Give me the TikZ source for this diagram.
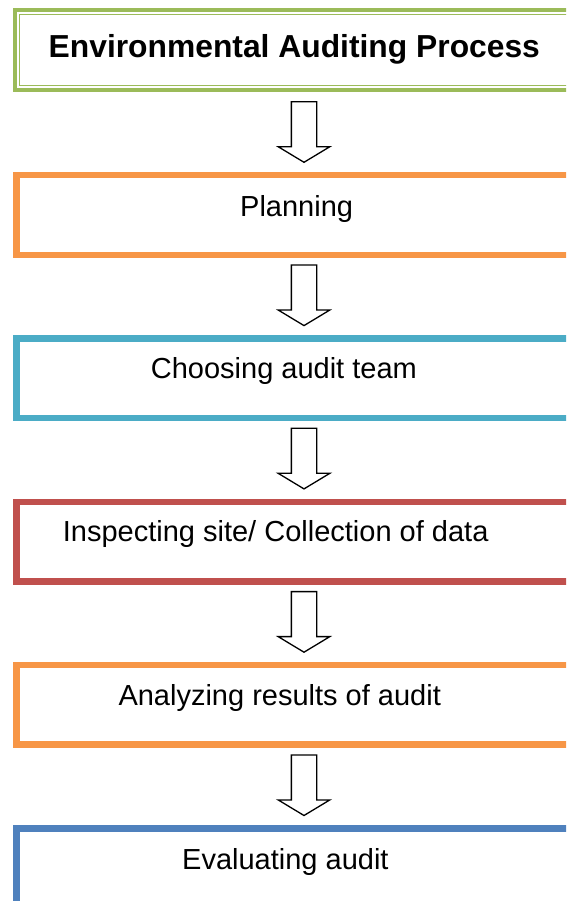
\documentclass[tikz,border=0pt]{standalone}
\usepackage{fontspec}
\setmainfont{Liberation Sans}
\definecolor{olivegreen}{HTML}{9BBB59}
\definecolor{boxorange}{HTML}{F79646}
\definecolor{boxaqua}{HTML}{4BACC6}
\definecolor{boxred}{HTML}{C0504D}
\definecolor{boxblue}{HTML}{4F81BD}
\tikzset{
  titlebox/.style={draw=olivegreen, line width=4.5pt, rectangle, anchor=north west,
    minimum width=700pt, minimum height=79.75pt, inner sep=0pt, outer sep=0pt},
  titleinner/.style={draw=olivegreen, line width=1.3pt},
  stepbox/.style={draw=#1, line width=6.5pt, rectangle, anchor=north west,
    minimum width=700pt, minimum height=79.5pt, inner sep=0pt, outer sep=0pt},
  steptext/.style={anchor=base west, inner sep=0pt, font=\fontsize{29}{34}\selectfont},
  titletext/.style={anchor=base west, inner sep=0pt,
    font=\fontsize{31.8}{37}\selectfont\bfseries},
  hollowarrow/.style={draw=black, line width=1.3pt, fill=white, line join=miter},
  pics/downarrow/.style={code={
    \draw[hollowarrow] (-12.65,0) -- (12.65,0) -- (12.65,45) -- (25.85,45)
      -- (0,60.6) -- (-25.85,45) -- (-12.65,45) -- cycle;}}
}
\begin{document}
\begin{tikzpicture}[x=1pt,y=-1pt]
  \useasboundingbox (0,0) rectangle (566,901);
  \clip (0,0) rectangle (566,901);
  \fill[white] (0,0) rectangle (566,901);

  % heading box with its double green frame
  \node[titlebox] (title) at (14.95,10.25) {};
  \draw[titleinner] ([shift={(4.55,4.35)}]title.north west) rectangle ([shift={(20,-4.4)}]title.south east);
  \node[titletext] (titlelbl) at (48.5,58) {Environmental Auditing Process};

  % process steps
  \node[stepbox=boxorange] (plan)    at (16.25,175.25) {};
  \node[stepbox=boxaqua]   (team)    at (16.25,338.55) {};
  \node[stepbox=boxred]    (inspect) at (16.25,501.85) {};
  \node[stepbox=boxorange] (analyze) at (16.25,665.15) {};
  \node[stepbox=boxblue]   (evaluate) at (16.25,828.45) {};

  \node[steptext] (planlbl)    at (240,217) {Planning};
  \node[steptext] (teamlbl)    at (150.7,378) {Choosing audit team};
  \node[steptext] (inspectlbl) at (62.7,541) {Inspecting site/ Collection of data};
  \node[steptext] (analyzelbl) at (118.3,705) {Analyzing results of audit};
  \node[steptext] (evaluatelbl) at (182,869) {Evaluating audit};

  % hollow block arrows between the steps
  \coordinate (a1) at (304,101.7);
  \coordinate (a2) at (304,265.0);
  \coordinate (a3) at (304,428.3);
  \coordinate (a4) at (304,591.6);
  \coordinate (a5) at (304,754.9);
  \foreach \c in {a1,a2,a3,a4,a5} \pic at (\c) {downarrow};
\end{tikzpicture}
\end{document}
